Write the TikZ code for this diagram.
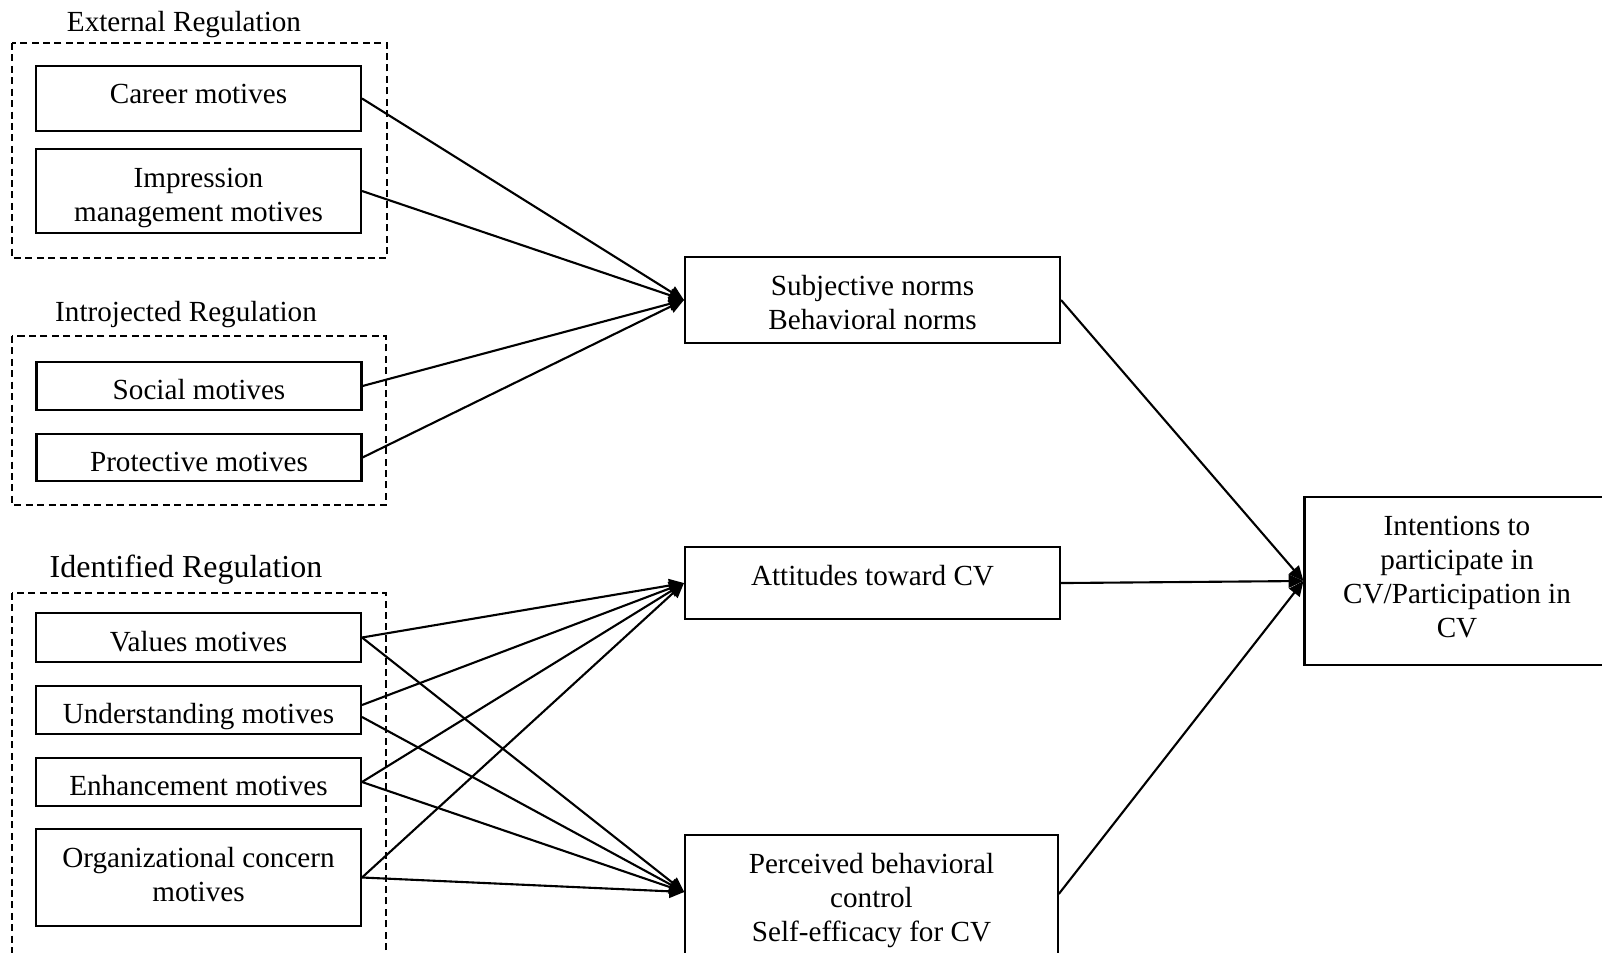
\documentclass[tikz,border=0pt]{standalone}
\usepackage{fontspec}
\setmainfont{Liberation Serif}
\usetikzlibrary{arrows.meta}

\begin{document}
\begin{tikzpicture}[x=0.02cm,y=-0.02cm,line width=1.2pt,
  font=\fontsize{16.6}{19.4}\selectfont,
  motive/.style={draw,minimum width=6.5cm,inner sep=0pt,align=center,text height=0.54cm,text depth=0pt},
  construct/.style={draw,minimum width=7.5cm,inner sep=0pt,align=center},
  group/.style={dash pattern=on 4pt off 2.5pt},
  link/.style={-{Triangle[length=8.5pt,width=7.5pt]}}]
\useasboundingbox (0,0) rectangle (1602,953);
\clip (0,0) rectangle (1602,953);

% External regulation
\draw[group] (12,43) rectangle (387,258);
\node (extlab) at (184,25) {External Regulation};
\node[motive,minimum height=1.3cm,text height=0.22cm] (career) at (198.5,98.5) {Career motives};
\node[motive,minimum height=1.68cm,text height=,text depth=] (impress) at (198.5,191) {\rule{0pt}{0.65cm}Impression\\management motives};

% Introjected regulation
\draw[group] (12,336) rectangle (386,505);
\node (intlab) at (186,315) {Introjected Regulation};
\node[motive,minimum height=0.96cm] (social) at (199,386) {Social motives};
\node[motive,minimum height=0.94cm] (protect) at (199,457.5) {Protective motives};

% Identified regulation
\draw[group] (12,593) rectangle (386,990);
\node[font=\fontsize{18.2}{21}\selectfont] (idlab) at (186,570) {Identified Regulation};
\node[motive,minimum height=0.98cm] (values) at (198.5,637.5) {Values motives};
\node[motive,minimum height=0.96cm] (underst) at (198.5,710) {Understanding motives};
\node[motive,minimum height=0.96cm] (enhance) at (198.5,782) {Enhancement motives};
\node[motive,minimum height=1.94cm,text height=,text depth=] (orgcon) at (198.5,877.5) {Organizational concern\\motives\rule[-0.14cm]{0pt}{0pt}};

% Mediators
\node[construct,minimum height=1.72cm] (subj) at (872.5,300) {\rule{0pt}{0.5cm}Subjective norms\\Behavioral norms};
\node[construct,anchor=north,inner ysep=0.28cm,text height=0.48cm,text depth=0.4cm] (att) at (872.5,546) {Attitudes toward CV};
\node[construct,minimum width=7.45cm,anchor=north,inner ysep=0.36cm] (pbc) at (871.5,834) {Perceived behavioral\\control\\Self-efficacy for CV};

% Outcome
\node[draw,minimum width=6.1cm,minimum height=3.36cm,inner sep=0pt,align=center] (intent) at (1457,581) {Intentions to\\participate in\\CV/Participation in\\CV\rule[-0.18cm]{0pt}{0pt}};

% Motives to mediators
\foreach \src in {career,impress,social,protect}
  \draw[link] (\src.east) -- (subj.west);
\foreach \src in {values,enhance,orgcon} {
  \draw[link] (\src.east) -- (att.west);
  \draw[link] (\src.east) -- ([yshift=-1.16cm]pbc.north west);
}
\draw[link] ([yshift=0.1cm]underst.east) -- (att.west);
\draw[link] ([yshift=-0.14cm]underst.east) -- ([yshift=-1.16cm]pbc.north west);

% Mediators to outcome
\draw[link] (subj.east) -- (intent.west);
\draw[link] (att.east) -- (intent.west);
\draw[link] ([yshift=-1.2cm]pbc.north east) -- (intent.west);
\end{tikzpicture}
\end{document}
